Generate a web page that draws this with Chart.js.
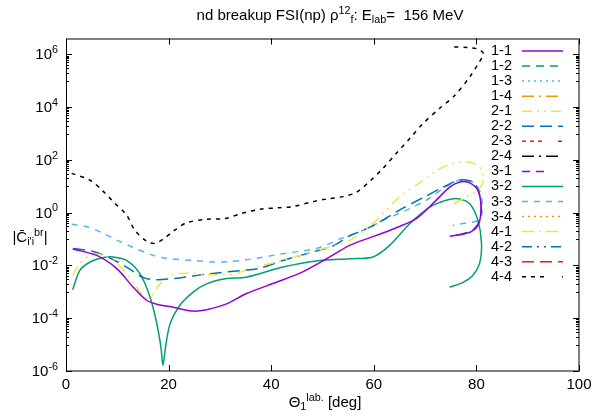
<!DOCTYPE html>
<html>
<head>
<meta charset="utf-8">
<script src="https://cdn.jsdelivr.net/npm/chart.js@4/dist/chart.umd.min.js"></script>
<style>
html,body{margin:0;padding:0;background:#fff;}
canvas{display:block;}
</style>
</head>
<body>
<canvas id="c" width="600" height="420"></canvas>
<script>
// ---------- data ----------
const seriesLabels = ['1-1','1-2','1-3','1-4','2-1','2-2','2-3','2-4','3-1','3-2','3-3','3-4','4-1','4-2','4-3','4-4'];

const theta11 = [1.3,6.0,9.9,13.1,15.7,17.7,20.9,24.8,27.4,31.3,35.1,41,45.6,50.8,55.3,60.5,65,68.3,71.5,74.8,77,78.8,80.3,80.9,80.4,79,77,74.8];
const c11 = [0.0417,0.024,7.6e-3,1.5e-3,4.8e-4,3.4e-4,2.6e-4,1.86e-4,2.1e-4,3.5e-4,8.5e-4,2.3e-3,5.1e-3,0.018,0.058,0.138,0.30,0.59,2.2,9.3,14.8,13.2,6.9,1.58,0.355,0.19,0.148,0.129];

const theta21 = [1.3,2.7,4.6,6.6,9.2,11.8,13.8,15.1,16.4,18.3,20.3,23.5,27.4,32.6,35.8,42.3,48.8,55.3,60.5,65,69.6,73.5,77.4,80.3,81.4,80.6,78,75.1];
const c21 = [4.2e-3,0.0117,0.024,0.0263,0.0155,4.9e-3,1.5e-3,6.3e-4,6.3e-4,2.0e-3,4.2e-3,5.1e-3,4.6e-3,4.6e-3,7.6e-3,0.0155,0.037,0.089,0.51,3.9,16.6,53.7,83,62,22.4,8.1,3.9,1.9];

const theta22 = [1.4,5.3,8.6,11.8,15.1,17.7,21.6,28,34.5,37.8,42.3,48.8,52,55.3,59.8,65,69.6,73.5,76.1,77.6,79.6,80.8,80.8,79.5,77.4,74.8];
const c22 = [0.0437,0.0339,0.019,8.7e-3,3.47e-3,2.88e-3,3.3e-3,4.9e-3,6.5e-3,7.9e-3,0.0155,0.0355,0.054,0.132,0.316,1.26,3.7,9.3,15.8,17.8,13.2,3.5,0.63,0.24,0.158,0.129];

const theta32 = [1.3,2.7,4.7,7.3,9.2,11.8,14.4,16.4,17.7,18.5,18.9,19.4,20.3,22.2,24.8,27.4,31.3,35.1,42.3,48.8,55.3,59.8,63.1,67,70.9,74.1,76.4,78.7,80.3,81,80.6,79.3,77.4,74.8];
const c32 = [1.2e-3,6.5e-3,0.0135,0.02,0.021,0.0155,4.9e-3,6.3e-4,6.3e-5,8.1e-6,1.66e-6,8.1e-6,6.3e-5,3.1e-4,9.8e-4,2.0e-3,3.2e-3,3.6e-3,8.7e-3,0.0148,0.018,0.021,0.058,0.38,1.62,2.95,3.4,2.2,0.51,0.068,0.0117,4.2e-3,2.3e-3,1.5e-3];

const theta33 = [1.1,4.0,6.6,9.9,12.8,16.4,19.6,24.8,28.7,32,35.8,42.3,48.8,54,58.6,61.8,66.3,70.2,73.5,76.1,77.7,79.8,81,81,80,78,75.4];
const c33 = [0.363,0.295,0.19,0.091,0.051,0.0263,0.0186,0.0155,0.0135,0.0141,0.017,0.028,0.044,0.112,0.245,0.51,1.23,2.95,8.1,15.8,17.8,12.6,3.9,0.79,0.48,0.41,0.33];

const theta44 = [1.1,4.7,7.3,9.2,11.8,13.4,15.7,17.3,18.9,21.2,23.5,27.4,31,34.2,37.8,41.7,44.2,48.2,50.8,54,56.6,59.5,61.8,64.4,67,69.6,72.8,75.8,78.7,80.6,81.4,80.3,78.7,75.1];
const c44 = [30.9,17,6.3,2.63,0.81,0.219,0.083,0.069,0.098,0.219,0.417,0.56,0.60,0.93,1.35,1.55,1.7,2.63,3.3,4.07,5.9,17.4,47.9,178,646,2400,8900,28000,141000,525000,1.07e6,1.58e6,1.78e6,1.95e6];

const xTicks = [0,20,40,60,80,100];
const yTickExps = [-6,-4,-2,0,2,4,6];

// ---------- styles ----------
const colors = ['#9400D3','#009E73','#56B4E9','#E69F00','#F0E442','#0072B2','#E51E10','#000000',
                '#9400D3','#009E73','#56B4E9','#E69F00','#F0E442','#0072B2','#E51E10','#000000'];
const dashes = [[],[8,6],[2,4],[12,5,2,5],[10,5,2,5,2,5],[12,6],[4,4,4,4,4,16],[12,5,2,5],
                [8,6,8,22],[],[6,6],[2,4],[12,5,2,5],[10,5,2,5,2,5],[12,6],[4,5,4,5,4,18]];
const curveData = {
  '1-1':[theta11,c11], '2-1':[theta21,c21], '2-2':[theta22,c22],
  '3-2':[theta32,c32], '3-3':[theta33,c33], '4-4':[theta44,c44]
};

const datasets = seriesLabels.map((lab,i)=>{
  const d = curveData[lab];
  const pts = d ? d[0].map((x,k)=>({x:x, y:d[1][k]})) : [];
  return {
    label: lab, data: pts, showLine:true, pointRadius:0,
    borderColor: colors[i], backgroundColor: colors[i],
    borderWidth: 1.5, borderDash: (lab==='4-4')?[4,5]:dashes[i], tension:0.3, fill:false
  };
});

const FONT = '"Liberation Sans", Arial, sans-serif';

function drawRich(ctx, segs, x, y, align, size){
  const small = size*0.72;
  let total = 0;
  const w = segs.map(s=>{
    ctx.font = (s.m==='n'? size: small)+'px '+FONT;
    const ww = ctx.measureText(s.t).width; total += ww; return ww;
  });
  let cx = align==='center' ? x-total/2 : (align==='right' ? x-total : x);
  ctx.textAlign='left'; ctx.textBaseline='alphabetic';
  segs.forEach((s,i)=>{
    ctx.font = (s.m==='n'? size: small)+'px '+FONT;
    let dy = 0;
    if (s.m==='sup') dy = -size*0.42;
    if (s.m==='sub') dy = size*0.22;
    ctx.fillText(s.t, cx, y+dy);
    cx += w[i];
  });
  return total;
}

const framePlugin = {
  id:'frame',
  afterDatasetsDraw(chart){
    const ctx = chart.ctx, a = chart.chartArea;
    const xs = chart.scales.x, ys = chart.scales.y;
    ctx.save();
    // frame
    ctx.strokeStyle='#000'; ctx.lineWidth=1;
    ctx.beginPath();
    ctx.moveTo(a.left+0.5, a.bottom); ctx.lineTo(a.left+0.5, a.top+0.5); ctx.lineTo(a.right, a.top+0.5);
    ctx.stroke();
    ctx.strokeStyle='#808080'; ctx.lineWidth=2;
    ctx.beginPath();
    ctx.moveTo(a.right, a.top); ctx.lineTo(a.right, a.bottom); ctx.lineTo(a.left, a.bottom);
    ctx.stroke();
    // ticks
    ctx.strokeStyle='#000'; ctx.lineWidth=1;
    ctx.beginPath();
    xTicks.forEach(v=>{
      const px = Math.round(xs.getPixelForValue(v))+0.5;
      ctx.moveTo(px,a.bottom); ctx.lineTo(px,a.bottom-6);
      ctx.moveTo(px,a.top); ctx.lineTo(px,a.top+6);
    });
    yTickExps.forEach(e=>{
      const py = Math.round(ys.getPixelForValue(Math.pow(10,e)))+0.5;
      ctx.moveTo(a.left,py); ctx.lineTo(a.left+6,py);
      ctx.moveTo(a.right,py); ctx.lineTo(a.right-6,py);
      if (e<6){
        for(let k=1;k<=9;k++){
          const py2 = Math.round(ys.getPixelForValue(k*Math.pow(10,e+1)))+0.5;
          ctx.moveTo(a.left,py2); ctx.lineTo(a.left+3,py2);
          ctx.moveTo(a.right,py2); ctx.lineTo(a.right-3,py2);
        }
      }
    });
    ctx.stroke();
    ctx.fillStyle='#000';
    // x tick labels
    ctx.font='15px '+FONT; ctx.textAlign='center'; ctx.textBaseline='alphabetic';
    xTicks.forEach(v=>{
      ctx.fillText(String(v), xs.getPixelForValue(v), a.bottom+18);
    });
    // y tick labels
    yTickExps.forEach(e=>{
      const py = ys.getPixelForValue(Math.pow(10,e));
      drawRich(ctx,[{t:'10',m:'n'},{t:String(e),m:'sup'}], a.left-8, py+5, 'right', 15);
    });
    // titles
    drawRich(ctx,[{t:'nd breakup FSI(np) \u03c1',m:'n'},{t:'12',m:'sup'},{t:'f',m:'sub'},{t:': E',m:'n'},{t:'lab',m:'sub'},{t:'=  156 MeV',m:'n'}], 330, 20, 'center', 15);
    drawRich(ctx,[{t:'\u0398',m:'n'},{t:'1',m:'sub'},{t:'lab.',m:'sup'},{t:' [deg]',m:'n'}], 325, 407, 'center', 15);
    drawRich(ctx,[{t:'|C\u0304',m:'n'},{t:"i'i",m:'sub'},{t:'br',m:'sup'},{t:'|',m:'n'}], 30, 242, 'center', 15);
    // legend
    const lx1 = 522, lx2 = 563, tx = 512, y0 = 51, dy = 15.05;
    chart.data.datasets.forEach((ds,i)=>{
      const y = y0 + i*dy;
      ctx.font='14.5px '+FONT; ctx.textAlign='right'; ctx.textBaseline='middle';
      ctx.fillStyle='#000';
      ctx.fillText(ds.label, tx, y);
      ctx.strokeStyle=ds.borderColor; ctx.lineWidth=1.5;
      ctx.setLineDash(dashes[i]);
      ctx.beginPath(); ctx.moveTo(lx1,y); ctx.lineTo(lx2,y); ctx.stroke();
      ctx.setLineDash([]);
    });
    ctx.restore();
  }
};

new Chart(document.getElementById('c'), {
  type:'scatter',
  data:{datasets: datasets},
  options:{
    responsive:false, animation:false, devicePixelRatio:1,
    layout:{padding:{left:66, right:21, top:38.5, bottom:49}},
    plugins:{legend:{display:false}, tooltip:{enabled:false}, title:{display:false}},
    scales:{
      x:{type:'linear', min:0, max:100, display:false},
      y:{type:'logarithmic', min:1e-6, max:4e6, display:false}
    }
  },
  plugins:[framePlugin]
});
</script>
</body>
</html>
